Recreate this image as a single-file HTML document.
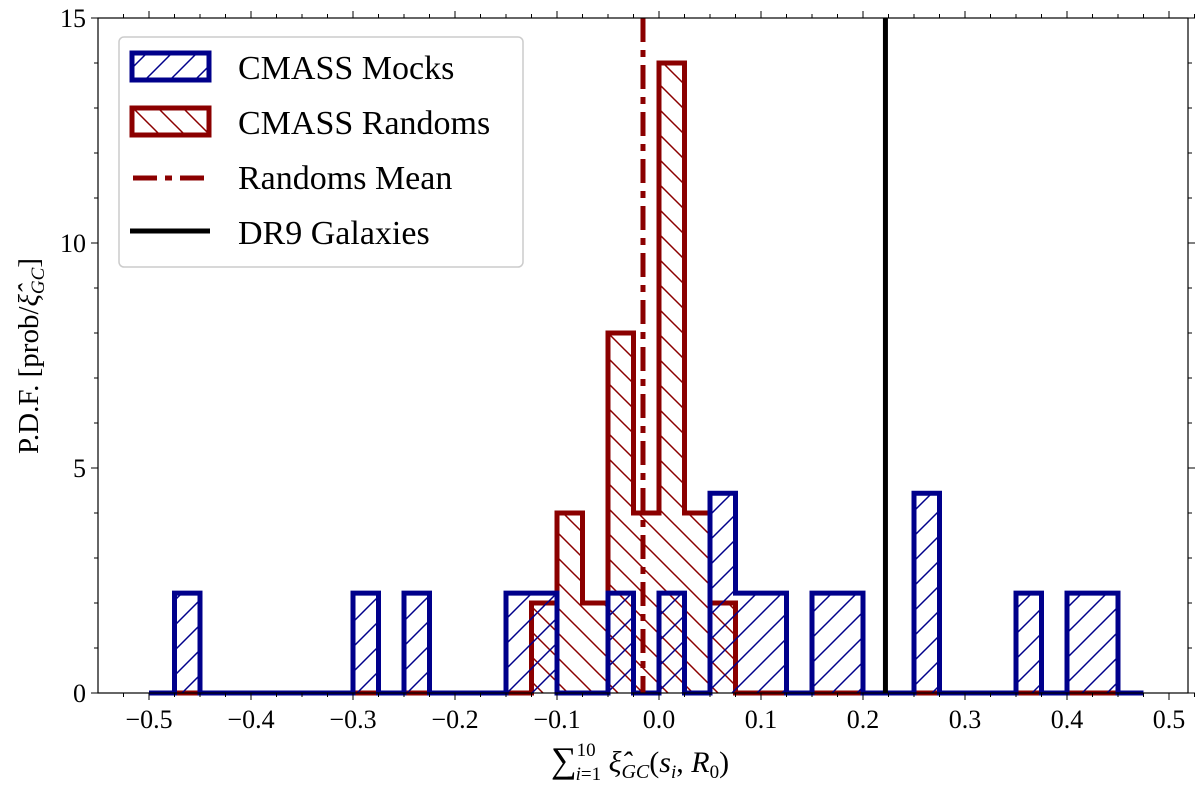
<!DOCTYPE html>
<html><head><meta charset="utf-8"><style>
body{margin:0;background:#fff}
svg text{font-family:"Liberation Serif",serif;fill:#000}
</style></head><body>
<svg id="c" width="1200" height="786" xmlns="http://www.w3.org/2000/svg">
<defs>
<pattern id="hb" patternUnits="userSpaceOnUse" width="25" height="25"><path d="M-5,30 L30,-5 M-5,5 L5,-5 M20,30 L30,20" stroke="#00008b" stroke-width="1.5"/></pattern>
<pattern id="hr" patternUnits="userSpaceOnUse" width="25" height="25"><path d="M-5,-5 L30,30 M-5,20 L5,30 M20,-5 L30,5" stroke="#8b0000" stroke-width="1.5"/></pattern>
</defs>
<g id="plot"></g>
</svg>
<script>
const binStart=-0.5, binW=0.025;
// 39 bins from -0.5 to 0.475
const mocks=[0,2.22,0,0,0,0,0,0,2.22,0,2.22,0,0,0,2.22,2.22,0,0,2.22,0,2.22,0,4.44,2.22,2.22,0,2.22,2.22,0,0,4.44,0,0,0,2.22,0,2.22,2.22,0];
const randoms=[0,0,0,0,0,0,0,0,0,0,0,0,0,0,0,2,4,2,8,4,14,4,2,0,0,0,0,0,0,0,0,0,0,0,0,0,0,0,0];
const mocksEnd=0.475, randomsEnd=0.475;
const randomsMean=-0.0157, dr9=0.222;
const xTicks=[-0.5,-0.4,-0.3,-0.2,-0.1,0.0,0.1,0.2,0.3,0.4,0.5];
const yTicks=[0,5,10,15];
const L=98,R=1188,T=18,B=693;
const X=v=>659+v*1020, Y=v=>B-(v/15)*(B-T);
const ns="http://www.w3.org/2000/svg", g=document.getElementById('plot');
function mk(t,a,p){const e=document.createElementNS(ns,t);for(const k in a)e.setAttribute(k,a[k]);(p||g).appendChild(e);return e;}
function stepPath(arr,end){const n=Math.round((end-binStart)/binW);let d=`M${X(binStart)},${Y(0)}`;for(let i=0;i<n;i++){const h=arr[i]||0;d+=` L${X(binStart+i*binW)},${Y(h)} L${X(binStart+(i+1)*binW)},${Y(h)}`;}d+=` L${X(end)},${Y(0)}`;return d;}
let e;
e=mk('path',{d:stepPath(randoms,randomsEnd)+'Z',fill:'url(#hr)',stroke:'none'});

e=mk('path',{d:stepPath(randoms,randomsEnd),fill:'none',stroke:'#8b0000','stroke-width':5,'stroke-linejoin':'miter'});

e=mk('path',{d:stepPath(mocks,mocksEnd)+'Z',fill:'url(#hb)',stroke:'none'});

e=mk('path',{d:stepPath(mocks,mocksEnd),fill:'none',stroke:'#00008b','stroke-width':5,'stroke-linejoin':'miter'});

e=mk('line',{x1:X(randomsMean),x2:X(randomsMean),y1:T,y2:B,stroke:'#8b0000','stroke-width':5,'stroke-dasharray':'24 8 7 8'});

e=mk('line',{x1:X(dr9),x2:X(dr9),y1:T,y2:B,stroke:'#000','stroke-width':5});

e=mk('rect',{x:L,y:T,width:R-L,height:B-T,fill:'none',stroke:'#000','stroke-width':1.2});

for(let v=-0.525;v<=0.53;v+=0.025){const x=X(v);const major=xTicks.some(t=>Math.abs(t-v)<1e-6);const len=major?7:4;
 mk('line',{x1:x,x2:x,y1:B,y2:B+len,stroke:'#000','stroke-width':1});mk('line',{x1:x,x2:x,y1:T,y2:T-len,stroke:'#000','stroke-width':1});}
xTicks.forEach(t=>{e=mk('text',{x:X(t),y:B+35,'font-size':26,'text-anchor':'middle'});e.textContent=(t<0?'\u2212':'')+Math.abs(t).toFixed(1);
});
for(let v=0;v<=15;v+=1){const y=Y(v);const major=yTicks.includes(v);const len=major?7:4;
 mk('line',{x1:L,x2:L-len,y1:y,y2:y,stroke:'#000'});mk('line',{x1:R,x2:R+len,y1:y,y2:y,stroke:'#000'});}
yTicks.forEach(t=>{e=mk('text',{x:L-12,y:Y(t)+9,'font-size':26,'text-anchor':'end'});e.textContent=t;
});
</script>
<svg style="position:absolute;left:0;top:0" width="1200" height="786" xmlns="http://www.w3.org/2000/svg">
<text x="640" y="772" font-size="30" text-anchor="middle" font-style="italic"><tspan font-style="normal" font-size="36">∑</tspan><tspan font-size="19" font-style="normal" dy="-16">10</tspan><tspan font-size="19" dx="-20" dy="24">i<tspan font-style="normal">=1</tspan></tspan><tspan dy="-8"> ξ̂</tspan><tspan font-size="20" dy="6">GC</tspan><tspan dy="-6" font-style="normal">(</tspan>s<tspan font-size="19" dy="6">i</tspan><tspan dy="-6" font-style="normal">, </tspan>R<tspan font-size="19" dy="6" font-style="normal">0</tspan><tspan dy="-6" font-style="normal">)</tspan></text>
<text transform="translate(38,356) rotate(-90)" font-size="29" text-anchor="middle">P.D.F. [prob/<tspan font-style="italic">ξ̂</tspan><tspan font-size="19" font-style="italic" dy="6">GC</tspan><tspan dy="-6">]</tspan></text>
<g>
<rect x="119" y="37" width="404" height="230" rx="5" fill="#fff" fill-opacity="0.85" stroke="#ccc" stroke-width="1.5"/>
<g><rect x="132" y="53" width="77" height="27" fill="url(#hb)" stroke="#00008b" stroke-width="5"/><text x="238" y="79" font-size="34">CMASS Mocks</text></g>
<g><rect x="132" y="108" width="77" height="27" fill="url(#hr)" stroke="#8b0000" stroke-width="5"/><text x="238" y="134" font-size="34">CMASS Randoms</text></g>
<g><line x1="133" x2="208" y1="178" y2="178" stroke="#8b0000" stroke-width="5" stroke-dasharray="24 8 7 8"/><text x="238" y="189" font-size="34">Randoms Mean</text></g>
<g><line x1="130" x2="210" y1="231" y2="231" stroke="#000" stroke-width="5"/><text x="238" y="244" font-size="34">DR9 Galaxies</text></g>
</g>
</svg>
</body></html>
